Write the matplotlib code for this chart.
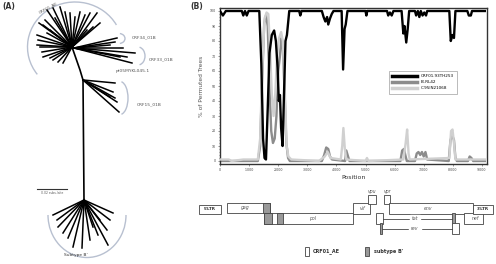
import numpy as np
import matplotlib
matplotlib.use('Agg')
import matplotlib.pyplot as plt
from matplotlib.patches import Arc, Rectangle
from matplotlib.ticker import MultipleLocator, FuncFormatter

# ---- (B) bootscan data ----
crf01_pos = [0, 100, 200, 750, 800, 860, 920, 980, 1350, 1420, 1480, 1530, 1580, 1640,
             1700, 1780, 1860, 1920, 1980, 2020, 2060, 2100, 2150, 2200, 2250, 2300,
             2380, 2720, 2760, 2800, 3500, 3560, 3620, 3680, 3720, 3780, 3840, 3900,
             4180, 4230, 4280, 4320, 4380, 5000, 5030, 5060, 5740, 5780, 5840, 5900,
             5960, 6240, 6300, 6340, 6400, 6450, 6500, 6700, 6740, 6800, 6850, 6900,
             6960, 7020, 7080, 7120, 7880, 7930, 7990, 8040, 8090, 8500, 8550, 8620,
             8660, 9100]
crf01_val = [100, 97, 100, 100, 97, 100, 97, 100, 100, 65, 15, 2, 1, 35,
             72, 84, 87, 80, 62, 40, 44, 22, 10, 45, 80, 84,
             100, 100, 97, 100, 100, 96, 93, 96, 91, 95, 98, 100,
             100, 61, 88, 91, 100, 100, 97, 100, 100, 97, 99, 97,
             100, 100, 85, 90, 79, 88, 100, 100, 97, 100, 96, 100,
             97, 99, 97, 100, 100, 80, 84, 82, 100, 100, 97, 97,
             100, 100]

bp_pos = [0, 1300, 1380, 1450, 1520, 1580, 1640, 1700, 1760, 1820, 1880, 1940, 2000,
          2060, 2110, 2160, 2220, 2280, 2340, 2400, 3500, 3580, 3650, 3720, 3780,
          3850, 4300, 4340, 4400, 4450, 6200, 6260, 6320, 6380, 6420, 6700, 6760,
          6820, 6880, 6940, 7000, 7060, 7120, 7860, 7920, 7980, 8040, 8090, 8140,
          8520, 8580, 8640, 8700, 9100]
bp_val = [0, 0, 10, 55, 92, 97, 90, 50, 20, 12, 15, 30, 60,
          70, 82, 76, 45, 12, 2, 0, 0, 4, 9, 8, 3,
          1, 0, 7, 3, 0, 0, 7, 8, 3, 0, 0, 5,
          6, 4, 6, 3, 6, 1, 0, 14, 17, 14, 2, 0,
          0, 3, 2, 0, 0]

c_pos = [0, 300, 400, 800, 1300, 1380, 1450, 1530, 1600, 1660, 1720, 1780, 1840,
         1900, 1960, 2030, 2100, 2160, 2230, 2290, 2350, 2450, 3400, 3600, 3700,
         3800, 4150, 4200, 4240, 4290, 4340, 5000, 5050, 5100, 6300, 6380, 6430,
         6480, 6520, 7880, 7940, 7990, 8040, 8090, 9100]
c_val = [1, 1, 0, 1, 1, 15, 60, 95, 99, 98, 75, 45, 30,
         45, 70, 82, 86, 80, 45, 10, 3, 1, 0, 3, 6,
         2, 1, 10, 22, 8, 1, 0, 2, 0, 1, 12, 21,
         5, 1, 2, 20, 21, 12, 1, 1]

series_names = ['CRF01.93TH253', "B'.RL42", 'C.95IN21068']

# ---- (A) tree, in picture pixel units ----
top_hub = (72, 47)
top_tips_x = [39, 43, 47, 53, 60, 65, 70, 75, 80, 85, 90, 97, 100, 93, 87, 37, 38, 40,
              42, 43, 50, 53, 58, 63, 47, 50, 37, 45, 55]
top_tips_y = [23, 25, 10, 8, 7, 12, 13, 17, 12, 15, 13, 13, 23, 27, 30, 35, 40, 47,
              52, 57, 58, 60, 62, 63, 33, 30, 45, 20, 18]
side_tips_x = [117, 115, 110, 123, 135, 127, 132, 120]
side_tips_y = [38, 42, 45, 48, 53, 57, 63, 57]
trunk_x = [72, 80, 83, 84]
trunk_y = [47, 70, 80, 200]
crf15_base = (83, 80)
crf15_tips_x = [115, 113, 115, 117, 119, 110]
crf15_tips_y = [83, 92, 98, 102, 112, 97]
bot_hub = (84, 200)
bot_tips_x = [53, 57, 58, 63, 68, 73, 82, 90, 98, 108, 113, 110, 107, 100, 93]
bot_tips_y = [215, 220, 227, 233, 238, 247, 248, 240, 235, 245, 213, 220, 230, 220, 227]

# ---- gene map, in picture pixel units ----
gene_names = ["5'LTR", 'gag', 'pol', 'vif', 'vpu', 'vpr', 'env', 'nef', "3'LTR"]
gene_x0 = [199, 227, 264, 353, 368, 384, 389, 464, 473]
gene_x1 = [221, 270, 353, 370, 376, 390, 473, 483, 493]
gene_y0 = [205, 203, 213, 203, 195, 195, 203, 213, 205]
gene_y1 = [214, 213, 224, 214, 204, 204, 214, 224, 214]
bprime_x0 = [263, 264, 277]
bprime_x1 = [270, 272, 283]
bprime_y0 = [203, 213, 213]
bprime_y1 = [213, 224, 224]

fig = plt.figure(figsize=(4.96, 2.64), dpi=100)
bg = fig.add_axes([0, 0, 1, 1])
bg.set_xlim(0, 496)
bg.set_ylim(264, 0)
bg.axis('off')

txtc = '#555555'
bg.text(2, 7, '(A)', fontsize=5.5, fontweight='bold', color='#333333', va='center')
bg.text(190, 7, '(B)', fontsize=5.5, fontweight='bold', color='#333333', va='center')

# tree branches
for tx, ty in zip(top_tips_x, top_tips_y):
    bg.plot([top_hub[0], tx], [top_hub[1], ty], color='black', lw=1.1)
for tx, ty in zip(side_tips_x, side_tips_y):
    bg.plot([top_hub[0] + 2, tx], [top_hub[1] + 1, ty], color='black', lw=1.1)
bg.plot(trunk_x, trunk_y, color='black', lw=1.2)
for tx, ty in zip(crf15_tips_x, crf15_tips_y):
    bg.plot([crf15_base[0], tx], [crf15_base[1], ty], color='black', lw=1.1)
for tx, ty in zip(bot_tips_x, bot_tips_y):
    bg.plot([bot_hub[0], tx], [bot_hub[1], ty], color='black', lw=1.1)

arcc = '#b8c0d0'
bg.add_patch(Arc((75, 47), 95, 90, theta1=144, theta2=332, color=arcc, lw=1.0))
bg.add_patch(Arc((119, 38.5), 12, 10, theta1=-80, theta2=80, color=arcc, lw=1.0))
bg.add_patch(Arc((138, 56), 14, 18, theta1=-80, theta2=80, color=arcc, lw=1.0))
bg.add_patch(Arc((120, 98), 16, 33, theta1=-85, theta2=85, color=arcc, lw=1.0))
bg.add_patch(Arc((87, 215), 78, 85, theta1=0, theta2=180, color=arcc, lw=1.0))

bg.text(38, 7.5, 'CRF01_AE', fontsize=3.0, color=txtc, rotation=28, va='center')
bg.text(132, 37, 'CRF34_01B', fontsize=3.2, color=txtc, va='center')
bg.text(149, 59, 'CRF33_01B', fontsize=3.2, color=txtc, va='center')
bg.text(116, 71, 'pt05MYKL045.1', fontsize=3.2, color=txtc, va='center')
bg.text(137, 104, 'CRF15_01B', fontsize=3.2, color=txtc, va='center')
bg.text(76, 255, "Subtype B'", fontsize=3.2, color='#333333', ha='center', va='center')
bg.plot([37, 67], [189, 189], color='#333333', lw=0.8)
bg.text(52, 193, '0.02 subs./site', fontsize=2.2, color=txtc, ha='center', va='center')

# gene map
for name, x0, x1, y0, y1 in zip(gene_names, gene_x0, gene_x1, gene_y0, gene_y1):
    bg.add_patch(Rectangle((x0, y0), x1 - x0, y1 - y0, fc='white', ec='#444444', lw=0.6))
for x0, x1, y0, y1 in zip(bprime_x0, bprime_x1, bprime_y0, bprime_y1):
    bg.add_patch(Rectangle((x0, y0), x1 - x0, y1 - y0, fc='#999999', ec='#444444', lw=0.6))
# tat and rev exons
bg.add_patch(Rectangle((376, 213), 7, 11, fc='white', ec='#444444', lw=0.6))
bg.plot([383, 452], [219, 219], color='#444444', lw=0.6)
bg.add_patch(Rectangle((452, 213), 3, 11, fc='#999999', ec='#444444', lw=0.6))
bg.add_patch(Rectangle((380, 223), 2, 11, fc='#999999', ec='#444444', lw=0.6))
bg.plot([382, 452], [229, 229], color='#444444', lw=0.6)
bg.add_patch(Rectangle((452, 223), 7, 11, fc='white', ec='#444444', lw=0.6))

glabel = dict(fontsize=3.3, color=txtc, style='italic', va='center', ha='center')
bg.text(210, 209.5, "5'LTR", fontsize=3.0, color='#333333', fontweight='bold', ha='center', va='center')
bg.text(483, 209.5, "3'LTR", fontsize=3.0, color='#333333', fontweight='bold', ha='center', va='center')
bg.text(245, 208, 'gag', **glabel)
bg.text(313, 218.5, 'pol', **glabel)
bg.text(362, 208.5, 'vif', **glabel)
bg.text(372, 192, 'vpu', **glabel)
bg.text(387, 192, 'vpr', **glabel)
bg.text(428, 208.5, 'env', **glabel)
bg.text(476, 218.5, 'nef', **glabel)
bg.text(415, 219, 'tat', backgroundcolor='white', **glabel)
bg.text(415, 229, 'rev', backgroundcolor='white', **glabel)

bg.add_patch(Rectangle((305, 247), 4, 9, fc='white', ec='#444444', lw=0.6))
bg.text(313, 251.5, 'CRF01_AE', fontsize=3.5, color='#333333', fontweight='bold', va='center')
bg.add_patch(Rectangle((365, 247), 4, 9, fc='#999999', ec='#444444', lw=0.6))
bg.text(374, 251.5, "subtype B'", fontsize=3.5, color='#333333', fontweight='bold', va='center')

# bootscan panel
ax = fig.add_axes([220 / 496, 1 - 164 / 264, 267 / 496, 156 / 264])
ax.plot(bp_pos, bp_val, color='#8c8c8c', lw=1.7, label=series_names[1], zorder=2)
ax.plot(c_pos, c_val, color='#d0d0d0', lw=1.7, label=series_names[2], zorder=3)
ax.plot(crf01_pos, crf01_val, color='black', lw=1.7, label=series_names[0], zorder=4)
ax.set_xlim(0, 9175)
ax.set_ylim(-2, 102)
ax.xaxis.set_major_locator(MultipleLocator(1000))
ax.yaxis.set_major_locator(MultipleLocator(10))
ax.yaxis.set_minor_locator(MultipleLocator(2))
ax.xaxis.set_major_formatter(FuncFormatter(lambda v, p: '{:,.0f}'.format(v)))
ax.tick_params(labelsize=2.3, length=1.5, width=0.4, pad=1.5, colors='#444444')
ax.tick_params(which='minor', length=1.0, width=0.4, colors='#444444')
for sp in ax.spines.values():
    sp.set_linewidth(1.0)
    sp.set_color('#333333')
ax.set_xlabel('Position', fontsize=4.5, color='#333333', labelpad=2)
ax.set_ylabel('% of Permuted Trees', fontsize=4.2, color='#555555', labelpad=4)

handles, labels = ax.get_legend_handles_labels()
order = [2, 0, 1]
leg = ax.legend([handles[i] for i in order], [labels[i] for i in order],
                loc='upper left', bbox_to_anchor=(0.625, 0.61), fontsize=3.0,
                handlelength=6, handletextpad=0.8, labelspacing=0.5,
                fancybox=False, edgecolor='#888888', borderpad=0.8)
for line in leg.get_lines():
    line.set_linewidth(2.5)
leg.get_frame().set_linewidth(0.5)

fig.savefig('out.png', dpi=100)
